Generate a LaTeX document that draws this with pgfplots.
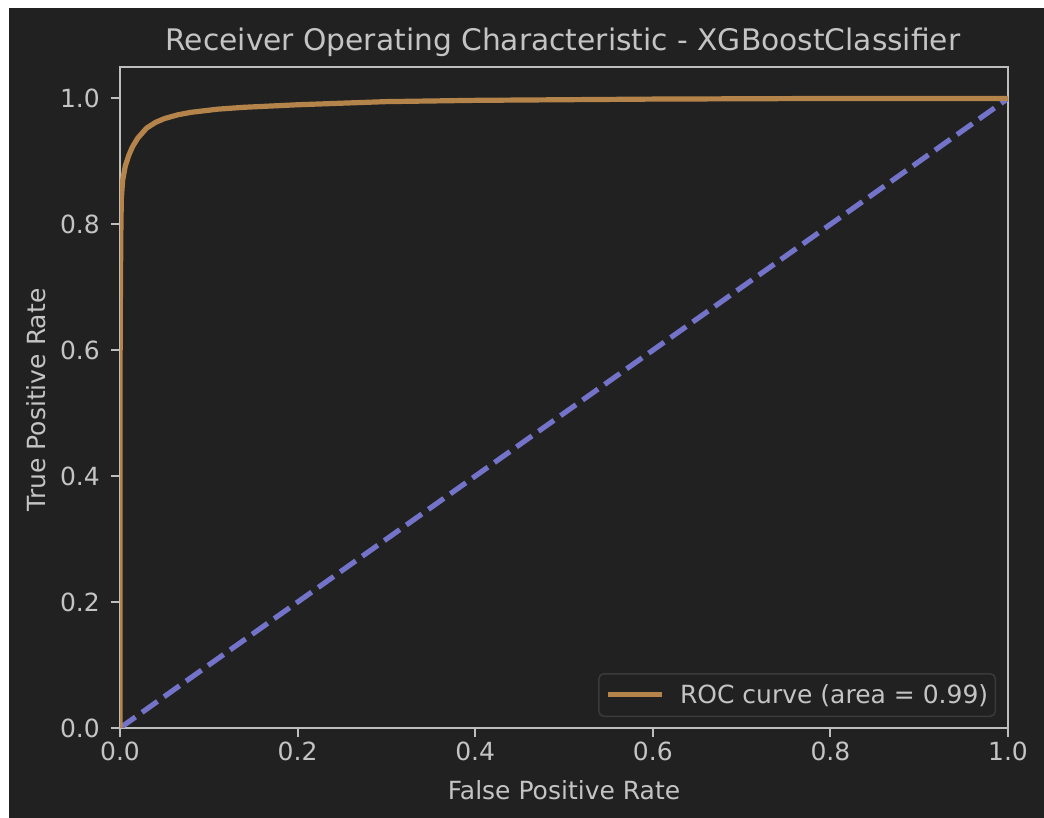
\documentclass[border=0pt]{standalone}
\usepackage{pgfplots}
\pgfplotsset{compat=1.18}
\usepackage{fontspec}
\setmainfont{DejaVu Sans}

\definecolor{bg}{HTML}{212121}
\definecolor{fg}{HTML}{C4C4C4}
\definecolor{framecol}{HTML}{BEBEBE}
\definecolor{roc}{HTML}{B4844A}
\definecolor{chance}{HTML}{7373C9}
\definecolor{legedge}{HTML}{3A3A3A}

\begin{document}
\begin{tikzpicture}[x=1pt,y=1pt]
% canvas
\fill[white] (0,0) rectangle (1044,818);
\fill[bg] (9,0) rectangle (1044,810);

\begin{axis}[
  at={(120pt,90pt)}, anchor=south west,
  scale only axis, width=888pt, height=661pt,
  xmin=0, xmax=1, ymin=0, ymax=1.05,
  xtick={0,0.2,0.4,0.6,0.8,1},
  ytick={0,0.2,0.4,0.6,0.8,1},
  xticklabels={0.0,0.2,0.4,0.6,0.8,1.0},
  yticklabels={0.0,0.2,0.4,0.6,0.8,1.0},
  tick pos=left, tick align=outside,
  major tick length=9pt,
  axis line style={framecol, line width=2pt},
  every tick/.style={framecol, line width=2pt},
  ticklabel style={font=\fontsize{25}{30}\selectfont, text=fg, inner sep=0pt},
  xticklabel style={anchor=base, yshift=-24pt},
  yticklabel style={anchor=east, xshift=-11pt},
  legend style={
    at={(0.9865,0.0166)}, anchor=south east,
    fill=bg, draw=legedge, line width=1.5pt, rounded corners=5pt,
    text=fg, font=\fontsize{25}{30}\selectfont,
    inner xsep=7pt, inner ysep=11pt,
    nodes={inner sep=0pt, anchor=base},
    column sep=15pt,
  },
  legend image code/.code={\draw[#1, line width=5.2pt] (0pt,9pt) -- (54pt,9pt);},
]
  % chance diagonal
  \addplot[chance, line width=5.2pt, dash pattern=on 19pt off 8pt, forget plot]
    coordinates {(0,0) (1,1)};
  % ROC curve
  \addplot[roc, line width=5.2pt, line join=round] coordinates {
    (0,0) (0,0.30) (0,0.55) (0.0005,0.70) (0.001,0.79) (0.0015,0.84)
    (0.003,0.870) (0.006,0.893) (0.010,0.910) (0.014,0.923) (0.020,0.937)
    (0.030,0.953) (0.040,0.962) (0.050,0.968) (0.065,0.974) (0.080,0.978)
    (0.110,0.983) (0.140,0.986) (0.170,0.988) (0.200,0.990) (0.260,0.993)
    (0.300,0.995) (0.400,0.997) (0.500,0.998) (0.600,0.999) (0.700,0.9995)
    (0.800,1.000) (1.000,1.000)
  };
  \addlegendentry{ROC curve (area = 0.99)}
\end{axis}

\node[text=fg, font=\fontsize{29.7}{36}\selectfont, anchor=base]
  at (563,767.7) {Receiver Operating Characteristic - XGBoostClassifier};
\node[text=fg, font=\fontsize{25}{30}\selectfont, anchor=base]
  at (564,18) {False Positive Rate};
\node[text=fg, font=\fontsize{25}{30}\selectfont, anchor=base, rotate=90]
  at (45,418) {True Positive Rate};
\end{tikzpicture}
\end{document}
